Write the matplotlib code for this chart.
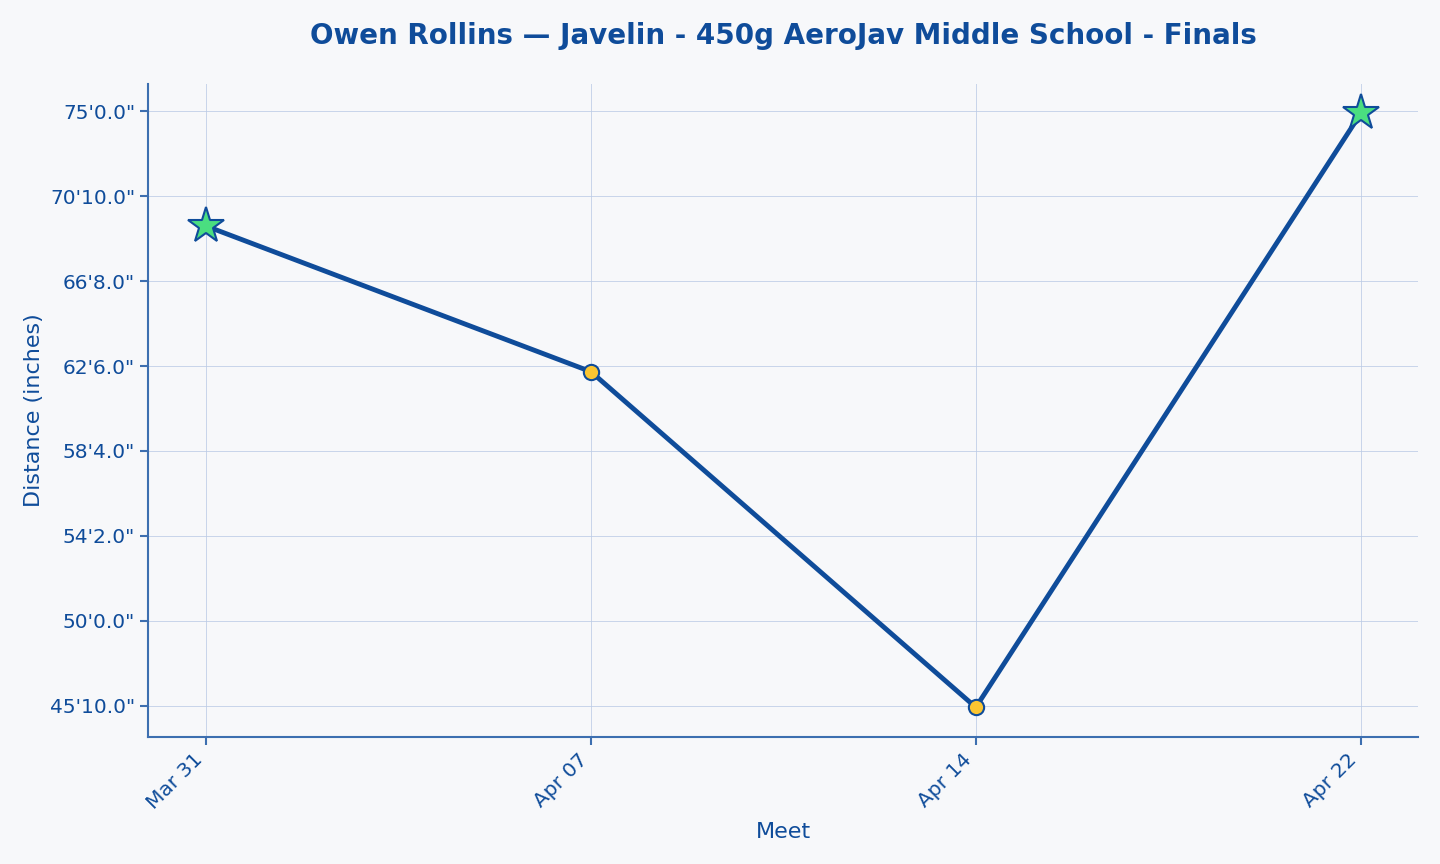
import matplotlib
matplotlib.use("Agg")
import matplotlib.pyplot as plt
from matplotlib.ticker import FuncFormatter

meets = ["Mar 31", "Apr 07", "Apr 14", "Apr 22"]
distance = [832.5, 746.7, 549.0, 898.8]  # inches
is_pr = [True, False, False, True]
yticks = [550, 600, 650, 700, 750, 800, 850, 900]

navy = "#0f4c9a"
spine_c = "#3d6fb0"
bg = "#f7f8fa"


def feet_inches(v, pos=None):
    ft = int(v // 12)
    inch = v - ft * 12
    return f"{ft}'{inch:.1f}\""


fig, ax = plt.subplots(figsize=(14.4, 8.64), dpi=100)
fig.patch.set_facecolor(bg)
ax.set_facecolor(bg)

x = list(range(len(meets)))
ax.plot(x, distance, color=navy, lw=3.5, zorder=2)
for xi, d, pr in zip(x, distance, is_pr):
    if pr:
        ax.plot(xi, d, marker="*", ms=27, mfc="#4ade80", mec=navy, mew=1.5, zorder=3)
    else:
        ax.plot(xi, d, marker="o", ms=11, mfc="#fbc531", mec=navy, mew=1.5, zorder=3)

ax.set_xticks(x)
ax.set_xticklabels(meets, rotation=45, ha="right")
ax.set_yticks(yticks)
ax.yaxis.set_major_formatter(FuncFormatter(feet_inches))

ax.grid(True, color="#bccbe6", lw=0.7, alpha=0.8)
ax.set_axisbelow(True)
for s in ["top", "right"]:
    ax.spines[s].set_visible(False)
for s in ["left", "bottom"]:
    ax.spines[s].set_color(spine_c)
    ax.spines[s].set_linewidth(1.5)
ax.tick_params(colors=navy, labelsize=14.5, length=6, width=1.5)
ax.tick_params(axis="both", color=spine_c)

ax.set_xlabel("Meet", fontsize=16, color=navy, labelpad=6)
ax.set_ylabel("Distance (inches)", fontsize=16, color=navy)
ax.set_title("Owen Rollins \u2014 Javelin - 450g AeroJav Middle School - Finals",
             fontsize=20, fontweight="bold", color=navy, pad=29)

fig.subplots_adjust(left=0.103, right=0.985, top=0.903, bottom=0.147)
fig.savefig("out.png", dpi=100, facecolor=bg)
